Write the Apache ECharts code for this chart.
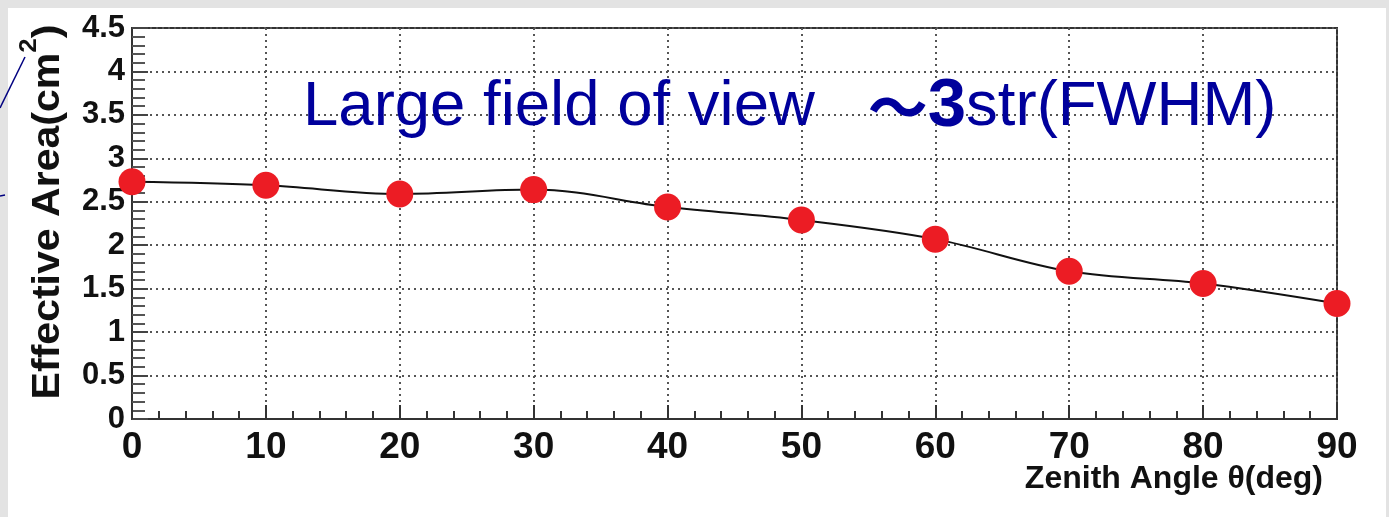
<!DOCTYPE html>
<html><head><meta charset="utf-8">
<script src="https://cdn.jsdelivr.net/npm/echarts@6/dist/echarts.min.js"></script>
<style>html,body{margin:0;padding:0;background:#e3e3e3;overflow:hidden}#c{width:1389px;height:517px}</style>
</head><body><div id="c"></div>
<script>
// ---- data ----
const zenithAngles = [0, 10, 20, 30, 40, 50, 60, 70, 80, 90];
const effectiveArea = [2.73, 2.69, 2.59, 2.64, 2.44, 2.29, 2.07, 1.70, 1.56, 1.33];
const xTickLabels = ['0', '10', '20', '30', '40', '50', '60', '70', '80', '90'];
const yTickLabels = ['0', '0.5', '1', '1.5', '2', '2.5', '3', '3.5', '4', '4.5'];
const xTitle = 'Zenith Angle θ(deg)';
const yTitle = ['Effective Area(cm', '2', ')'];
const noteText = ['Large field of view   ', '～', '3', 'str(FWHM)'];

const FONT = '"Liberation Sans", Arial, Helvetica, sans-serif';
const chart = echarts.init(document.getElementById('c'), null, {renderer: 'canvas'});
const pts = zenithAngles.map((x, i) => [x, effectiveArea[i]]);

chart.setOption({
  animation: false,
  backgroundColor: 'transparent',
  grid: {left: 132, right: 52, top: 28, bottom: 98, show: true, borderColor: '#333', borderWidth: 2, backgroundColor: 'transparent'},
  graphic: [
    {type: 'rect', z: -10, silent: true, shape: {x: 8, y: 8, width: 1378, height: 509}, style: {fill: '#ffffff'}},
    {type: 'line', z: 100, shape: {x1: 0, y1: 108, x2: 25, y2: 57}, style: {stroke: '#000080', lineWidth: 1.5}},
    {type: 'line', z: 100, shape: {x1: 0, y1: 196, x2: 5, y2: 195}, style: {stroke: '#000080', lineWidth: 1.5}},
    {type: 'text', z: 100, x: 1323, y: 479, style: {text: xTitle, font: 'bold 32px ' + FONT, fill: '#111', textAlign: 'right', textVerticalAlign: 'middle'}},
    {type: 'text', z: 100, x: 49, y: 212, rotation: Math.PI / 2, scaleX: 1.08,
      style: {text: '{a|' + yTitle[0] + '}{s|' + yTitle[1] + '}{a|' + yTitle[2] + '}', textAlign: 'center', textVerticalAlign: 'middle',
        rich: {a: {fontFamily: FONT, fontWeight: 'bold', fontSize: 38, fill: '#111', color: '#111'},
               s: {fontFamily: FONT, fontWeight: 'bold', fontSize: 24, fill: '#111', color: '#111', padding: [0, 0, 40, 0]}}}},
    {type: 'text', z: 100, x: 303, y: 107,
      style: {text: '{a|' + noteText[0] + '}{t|' + noteText[1] + '}{b|' + noteText[2] + '}{a|' + noteText[3] + '}', textAlign: 'left', textVerticalAlign: 'middle',
        rich: {a: {fontFamily: FONT, fontSize: 63.5, color: '#00009c', fill: '#00009c'},
               t: {fontFamily: '"Noto Sans CJK JP", ' + FONT, fontWeight: 'bold', fontSize: 60, color: '#00009c', fill: '#00009c'},
               b: {fontFamily: FONT, fontWeight: 'bold', fontSize: 69, color: '#00009c', fill: '#00009c'}}}}
  ],
  xAxis: {
    type: 'value', min: 0, max: 90, interval: 10,
    axisLine: {show: true, onZero: false, lineStyle: {color: '#333', width: 2}},
    axisTick: {show: true, inside: true, length: 14, lineStyle: {color: '#333', width: 2}},
    minorTick: {show: true, splitNumber: 5, length: 8, lineStyle: {color: '#333', width: 2}},
    splitLine: {show: true, lineStyle: {color: '#555', width: 2, type: [2, 4]}},
    axisLabel: {margin: 10, fontFamily: FONT, fontWeight: 'bold', fontSize: 37, color: '#111',
      formatter: v => xTickLabels[Math.round(v / 10)] ?? ''}
  },
  yAxis: {
    type: 'value', min: 0, max: 4.5, interval: 0.5,
    axisLine: {show: true, onZero: false, lineStyle: {color: '#333', width: 2}},
    axisTick: {show: true, inside: true, length: 16, lineStyle: {color: '#444', width: 2}},
    minorTick: {show: true, splitNumber: 5, length: 13, lineStyle: {color: '#555', width: 2}},
    splitLine: {show: true, lineStyle: {color: '#555', width: 2, type: [2, 4]}},
    axisLabel: {margin: 7, fontFamily: FONT, fontWeight: 'bold', fontSize: 31, color: '#111',
      formatter: v => yTickLabels[Math.round(v / 0.5)] ?? ''}
  },
  series: [{
    type: 'line', data: pts, smooth: 0.35,
    lineStyle: {color: '#111', width: 2},
    symbol: 'circle', symbolSize: 27,
    itemStyle: {color: '#ec1c24', borderWidth: 0},
    z: 5
  }]
});
</script></body></html>
